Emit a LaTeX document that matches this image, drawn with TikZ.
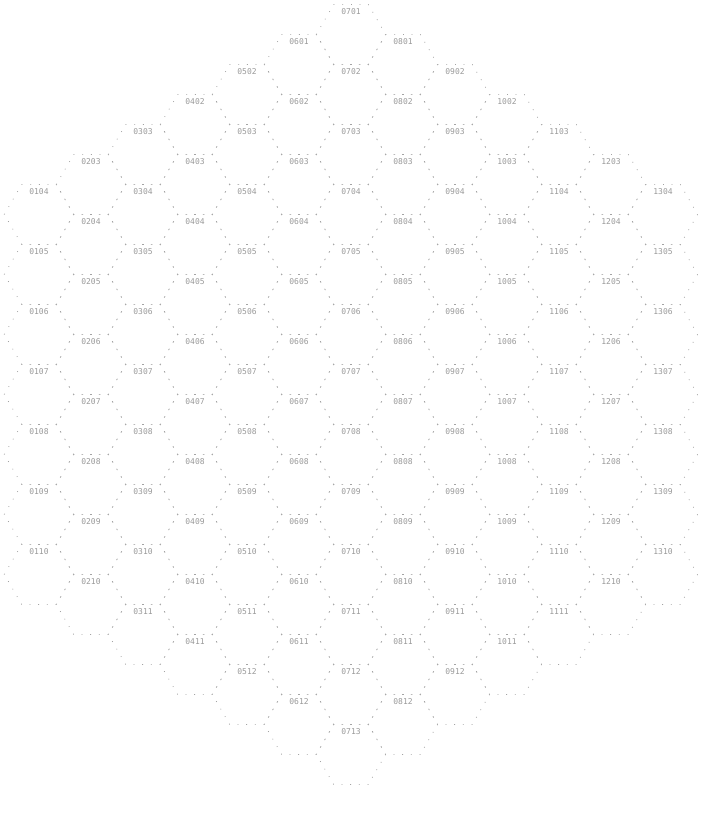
\documentclass[tikz,border=0pt]{standalone}
\usepackage{fontspec}
\setmonofont{DejaVu Sans Mono}
\definecolor{hexline}{HTML}{A4A4A4}
\definecolor{hextext}{HTML}{999999}
\begin{document}
\begin{tikzpicture}[x=1pt,y=-1pt,
  hexedge/.style={draw=hexline, line width=0.8pt, dash pattern=on 0.8pt off 7.86pt},
  hexlabel/.style={font=\ttfamily\fontsize{8}{9}\selectfont, text=hextext, inner sep=0pt}]
\useasboundingbox (0,0) rectangle (702,820);
\foreach \c/\a/\b in {1/4/10, 2/3/10, 3/3/11, 4/2/11, 5/2/12, 6/1/12, 7/1/13, 8/1/12, 9/2/12, 10/2/11, 11/3/11, 12/3/10, 13/4/10} {
  \foreach \r in {\a,...,\b} {
    \pgfmathsetmacro\cx{39+52*(\c-1)}
    \pgfmathsetmacro\cy{34.4+60*(\r-1)+30*(1-mod(\c,2))}
    \draw[hexedge] (\cx+34.64,\cy) -- ++(-17.32,30) -- ++(-34.64,0) -- ++(-17.32,-30) -- ++(17.32,-30) -- ++(34.64,0) -- cycle;
    \node[hexlabel] (h\c-\r) at (\cx,\cy-22.6) {\ifnum\c<10 0\fi\c\ifnum\r<10 0\fi\r};
  }
}
\end{tikzpicture}
\end{document}
